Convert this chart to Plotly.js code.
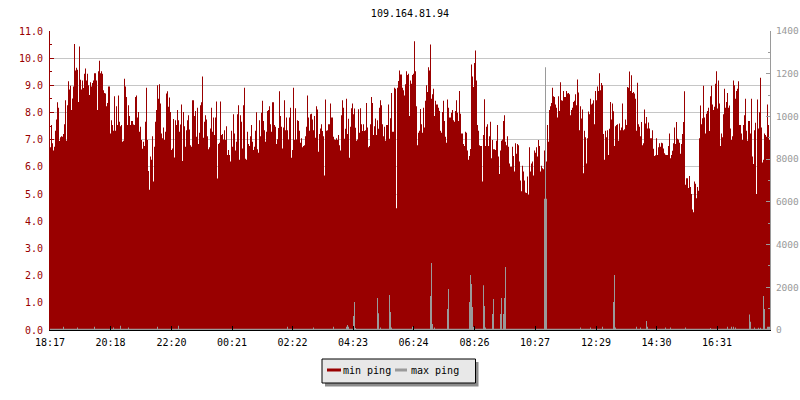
<!DOCTYPE html>
<html>
<head>
<meta charset="utf-8">
<script src="https://cdn.plot.ly/plotly-3.0.1.min.js"></script>
<style>html,body{margin:0;padding:0;background:#fff;}#chart{width:800px;height:400px;}</style>
</head>
<body>
<div id="chart"></div>
<script>
var chartTitle = "109.164.81.94";
var sampleMinutes = 2;
var timeTickMinutes = [0, 121, 243, 364, 485, 606, 727, 849, 970, 1092, 1213, 1334];
var timeTickLabels = ["18:17", "20:18", "22:20", "00:21", "02:22", "04:23", "06:24", "08:26", "10:27", "12:29", "14:30", "16:31"];
var rightTickVals = [0, 2000, 4000, 6000, 8000, 10000, 12000, 14000];
var rightTickText = ["0", "2000", "4000", "6000", "8000", "1000", "1200", "1400"];
var seriesNames = ["min ping", "max ping"];

var minPing = [
6.72,7.54,6.87,6.60,6.74,7.33,7.74,8.38,8.18,6.95,7.09,7.13,7.11,7.21,7.57,8.45,6.96,8.27,9.15,8.85,
8.99,8.09,8.52,8.96,10.52,9.55,9.65,9.57,8.39,10.43,9.21,8.85,9.18,8.90,9.43,9.62,9.18,9.43,9.00,8.65,
9.11,8.96,9.09,9.18,9.45,9.45,9.18,8.09,9.52,9.91,9.45,9.52,9.43,8.82,8.72,8.70,8.23,8.35,8.96,8.96,
7.23,7.72,7.54,7.33,8.60,7.33,8.23,7.54,8.63,7.66,7.50,7.54,6.93,6.96,9.24,8.96,8.57,7.54,8.27,7.87,
7.54,7.69,7.69,7.56,7.54,8.57,8.63,7.82,8.02,7.29,7.48,6.99,6.67,6.93,6.77,7.66,8.91,6.99,5.85,5.16,
6.38,6.26,7.13,5.46,6.74,7.66,8.09,9.00,8.51,9.04,8.33,7.23,7.05,7.45,6.99,7.29,8.70,8.78,8.21,8.55,
8.02,6.62,6.68,7.76,6.35,7.72,7.54,8.09,7.72,7.29,7.56,8.30,6.22,8.02,7.50,6.74,7.35,7.72,7.90,7.38,
6.80,6.74,8.45,8.45,
7.87,8.06,7.11,8.18,6.84,7.26,8.27,8.38,9.33,7.07,7.66,7.90,7.74,7.13,6.65,6.72,7.41,8.18,7.29,7.82,
7.17,7.82,8.41,5.57,6.84,6.89,8.41,7.17,7.21,7.01,7.35,6.99,7.50,6.44,6.62,6.44,6.20,7.33,6.74,7.94,
7.23,6.60,6.93,7.94,8.27,6.26,7.90,7.66,6.68,8.27,8.91,6.30,6.26,7.29,6.84,6.77,7.13,7.54,6.93,6.62,
6.74,7.33,8.01,6.65,6.52,7.72,7.13,7.99,8.43,7.69,7.35,6.93,7.29,8.06,8.09,8.23,7.57,7.29,8.38,8.38,
7.54,7.48,6.84,7.02,7.43,8.78,7.87,7.48,6.68,7.45,8.45,7.35,7.82,7.35,7.01,7.82,8.18,6.34,6.62,8.91,
6.99,8.16,7.01,7.72,7.69,7.33,6.89,7.05,6.72,6.77,6.80,7.13,7.48,8.63,7.82,7.33,7.94,7.96,7.74,7.35,
7.87,7.07,8.23,8.11,6.56,7.21,7.41,7.57,7.32,7.13,5.68,8.48,7.33,7.35,7.57,7.57,8.33,7.82,7.82,7.11,
7.01,6.99,7.05,6.99,
7.17,6.80,6.60,7.90,8.45,8.18,7.04,7.40,8.51,7.21,7.77,6.34,7.48,8.16,8.33,7.94,8.15,7.44,6.96,7.01,
8.12,7.26,8.16,7.57,7.32,7.57,7.32,7.35,8.35,7.45,6.72,6.77,7.57,8.57,8.35,7.17,7.50,7.78,7.17,7.72,
7.40,8.18,8.45,8.27,7.57,7.13,7.48,6.96,7.54,7.54,8.30,7.04,7.79,8.72,7.29,7.29,8.91,8.88,4.48,8.91,
9.16,9.55,9.40,9.40,8.91,8.82,8.63,9.04,9.52,9.38,9.43,7.87,9.18,9.06,9.38,9.43,10.62,9.52,8.23,6.80,
7.26,7.33,8.13,7.57,7.26,8.18,7.45,8.43,9.00,8.76,9.67,9.55,10.50,8.51,8.67,8.88,7.87,8.43,8.30,8.30,
8.18,8.06,7.33,7.26,8.02,8.43,7.69,7.11,6.89,8.48,8.18,7.82,7.82,7.99,8.09,7.72,7.66,8.06,8.45,7.99,
7.69,8.79,7.96,7.23,7.23,6.84,6.77,7.29,7.26,6.60,6.26,6.40,6.66,9.77,9.33,8.94,9.82,10.28,9.18,7.54,
7.33,6.80,6.77,6.77,
5.46,7.17,8.49,6.77,7.48,7.57,6.77,7.13,7.66,6.32,6.99,6.65,6.65,6.62,6.96,7.54,6.38,5.74,6.60,6.96,
7.01,7.69,7.90,6.93,6.80,7.13,6.74,6.13,6.01,6.01,6.74,6.40,5.83,6.87,6.48,6.84,6.80,6.20,5.50,5.10,
6.04,5.83,5.50,5.06,5.04,5.65,4.98,6.72,5.83,6.13,6.20,5.68,6.60,6.52,6.72,6.38,6.99,6.77,5.83,6.04,
5.95,5.91,6.60,6.56,6.20,7.54,6.93,8.09,8.23,8.35,8.91,8.60,8.57,8.30,8.18,7.82,8.60,8.06,9.11,8.45,
8.43,8.79,8.57,8.57,8.79,8.70,8.72,8.67,7.90,8.09,8.18,8.39,8.43,8.67,8.27,9.22,8.74,7.35,8.23,7.78,
8.11,5.77,7.33,7.09,6.13,7.05,8.04,7.94,8.51,8.30,8.33,8.45,7.57,8.79,8.45,8.96,8.79,9.45,8.82,9.09,
9.00,7.21,6.26,7.33,7.09,7.35,6.44,7.40,8.39,7.74,8.33,8.05,6.77,7.50,7.54,7.57,6.96,7.60,7.35,7.45,
8.33,7.35,7.39,7.74,
7.54,8.94,8.91,9.51,8.79,9.37,8.72,8.76,8.70,8.51,7.33,9.10,7.57,7.48,7.13,7.65,6.80,6.87,8.11,7.60,
7.84,7.41,7.63,7.41,7.05,7.05,7.35,6.67,6.40,6.43,7.05,6.44,6.72,6.87,6.74,6.89,6.87,6.68,6.50,6.45,
6.44,6.44,6.77,7.23,6.32,6.44,6.59,6.87,7.45,6.84,7.65,7.04,7.01,6.89,6.48,6.84,7.21,7.65,8.78,5.34,
5.58,5.58,5.22,5.67,5.26,5.00,4.43,4.33,5.46,5.38,4.85,5.26,5.12,7.05,8.26,7.57,7.79,8.99,7.82,7.23,
7.96,8.06,8.18,7.32,8.60,8.99,8.30,8.09,8.21,9.06,9.52,8.15,9.18,8.33,6.77,7.23,7.09,7.94,8.88,8.18,
8.39,8.72,8.18,8.26,7.41,6.99,7.13,9.18,9.00,8.51,8.79,8.88,9.15,7.54,7.54,7.23,6.99,7.54,7.90,8.51,
7.33,6.96,7.69,7.69,7.23,8.51,6.38,6.11,7.35,7.62,5.00,8.48,7.41,8.01,9.28,7.45,6.16,6.26,7.23,7.17,
7.11,8.30,7.54,6.99
];

var maxPing = [
60,60,60,60,60,60,60,60,60,60,60,60,60,150,60,60,60,60,60,60,60,60,60,60,60,60,60,120,60,60,60,60,60,60,60,60,60,60,60,60,
60,60,60,60,150,60,60,60,60,60,60,60,60,60,60,60,60,60,60,60,60,60,60,120,60,60,60,60,60,60,200,60,60,60,60,60,60,60,120,60,
60,60,60,60,60,60,60,60,60,60,60,60,60,60,60,60,60,60,60,60,60,60,60,60,60,60,60,150,60,60,60,60,60,60,60,60,60,60,60,60,
60,60,60,60,60,60,60,60,200,60,60,60,60,60,60,60,60,60,60,60,60,60,60,60,60,60,60,60,60,60,60,60,60,60,60,60,60,60,60,60,
60,60,60,60,60,60,60,60,60,60,60,60,60,60,60,60,60,60,60,60,60,60,60,60,60,60,60,60,60,60,60,60,60,60,60,60,60,60,60,60,
60,60,60,60,60,60,60,60,60,60,60,60,60,60,60,60,60,60,60,60,60,60,60,60,60,60,60,60,60,60,60,60,60,60,60,60,60,150,60,60,
60,60,60,60,60,60,60,60,60,60,60,60,60,60,60,60,60,60,60,60,60,60,60,120,60,60,60,60,60,60,60,60,60,60,60,60,60,60,60,60,
60,60,60,150,60,60,60,60,60,60,60,60,60,60,60,60,150,230,150,60,60,60,60,655,1310,90,60,60,60,60,60,60,60,60,60,60,60,60,60,60,
60,60,60,60,60,60,60,1500,780,60,120,60,60,60,60,60,60,60,60,1640,840,120,60,60,60,60,60,60,60,60,60,60,60,60,60,60,60,60,60,60,
60,60,150,60,60,60,60,60,60,60,60,60,60,60,60,60,60,60,60,60,1590,3140,280,60,120,60,60,60,60,60,60,60,60,60,60,60,60,980,1920,60,
60,60,60,60,60,60,60,60,60,60,60,60,60,60,60,60,60,60,60,1310,2570,2150,1080,140,60,60,60,60,60,60,60,60,60,2100,1120,120,60,60,60,60,
60,60,750,1450,60,60,60,60,60,60,750,1500,60,750,1500,2950,60,60,60,60,60,60,60,60,60,60,60,60,60,60,60,60,60,60,60,60,60,60,60,60,
60,60,60,60,60,60,60,60,60,60,60,60,60,60,6150,12300,6150,60,60,60,60,60,60,60,60,60,60,60,60,60,60,60,60,60,60,60,60,60,60,60,
60,60,60,60,60,60,60,60,60,60,120,60,60,60,60,60,60,60,60,60,120,60,60,60,60,60,60,60,60,60,60,60,150,60,60,60,60,60,60,60,
60,60,60,1310,2570,120,60,60,60,60,60,60,60,60,60,60,60,60,60,60,60,60,60,60,60,60,150,60,60,60,120,60,60,60,60,60,420,150,60,60,
60,60,60,60,60,60,60,60,60,60,60,60,60,60,60,120,60,60,60,60,120,60,60,60,60,60,60,60,60,60,60,60,60,60,60,120,60,60,60,60,
60,60,60,60,60,60,60,60,60,60,60,60,60,60,60,60,60,60,60,60,90,60,60,60,60,60,60,60,60,60,60,60,60,60,60,60,60,150,60,60,
60,150,60,150,60,120,60,60,60,60,60,60,60,60,60,60,60,60,60,720,390,60,60,60,120,60,60,60,100,60,100,60,60,1590,980,60,60,155,155,155
];

function stepX(arr) {
  var xs = [];
  for (var i = 0; i <= arr.length; i++) xs.push(i * sampleMinutes);
  return xs;
}
function stepY(arr) {
  return arr.concat([arr[arr.length - 1]]);
}

var red = "#990000";
var gray = "#9a9a9a";
var mono = "DejaVu Sans Mono";

var traces = [
  {
    type: "scatter", mode: "lines", name: seriesNames[0],
    x: stepX(minPing), y: stepY(minPing),
    line: {shape: "hv", width: 0, color: red},
    fill: "tozeroy", fillcolor: red, yaxis: "y", hoverinfo: "skip"
  },
  {
    type: "scatter", mode: "lines", name: seriesNames[1],
    x: stepX(maxPing), y: stepY(maxPing),
    line: {shape: "hv", width: 0, color: gray},
    fill: "tozeroy", fillcolor: gray, yaxis: "y2", hoverinfo: "skip"
  }
];

function px(x) { return (x - 50) / 720; }
function py(y) { return (330 - y) / 299; }

var layout = {
  width: 800, height: 400,
  margin: {l: 50, r: 30, t: 31, b: 70, pad: 0},
  paper_bgcolor: "#ffffff", plot_bgcolor: "#ffffff",
  showlegend: false,
  title: {text: chartTitle, font: {family: mono, size: 10, color: "#000"},
          x: 0.5125, xref: "container", xanchor: "center", y: 1 - 13 / 400, yref: "container", yanchor: "middle"},
  xaxis: {
    range: [0, minPing.length * sampleMinutes], tickmode: "array",
    tickvals: timeTickMinutes, ticktext: timeTickLabels,
    ticks: "inside", ticklen: 4, tickcolor: "#000", tickwidth: 1,
    showline: true, linecolor: "#000", linewidth: 1, showgrid: false, zeroline: false,
    tickfont: {family: mono, size: 10, color: "#000"}, ticklabelstandoff: 3, fixedrange: true
  },
  yaxis: {
    range: [0, 11], tickmode: "linear", tick0: 0, dtick: 1, tickformat: ".1f",
    ticks: "inside", ticklen: 4, tickcolor: red, tickwidth: 1,
    showline: true, linecolor: red, linewidth: 1,
    showgrid: true, gridcolor: "#c6c6c6", gridwidth: 1, zeroline: false,
    tickfont: {family: mono, size: 10, color: red}, ticklabelstandoff: 4,
    minor: {dtick: 0.5, tick0: 0, ticks: "inside", ticklen: 2, tickcolor: red, showgrid: false}
  },
  yaxis2: {
    overlaying: "y", side: "right", range: [0, 14000], tickmode: "array",
    tickvals: rightTickVals, ticktext: rightTickText,
    ticks: "inside", ticklen: 4, tickcolor: gray, tickwidth: 1,
    showline: true, linecolor: gray, linewidth: 1, showgrid: false, zeroline: false,
    tickfont: {family: mono, size: 9.5, color: gray}, ticklabelstandoff: 3,
    minor: {tickmode: "array", tickvals: [1000, 3000, 5000, 7000, 9000, 11000, 13000], ticks: "inside", ticklen: 2, tickcolor: gray, showgrid: false}
  },
  shapes: [
    {type: "rect", xref: "paper", yref: "paper", x0: px(325), x1: px(478.5), y0: py(362), y1: py(386.5),
     fillcolor: "#8c8c8c", line: {width: 0}, layer: "above"},
    {type: "rect", xref: "paper", yref: "paper", x0: px(322), x1: px(475.5), y0: py(359), y1: py(383),
     fillcolor: "#e8e8e8", line: {width: 1, color: "#000"}, layer: "above"},
    {type: "line", xref: "paper", yref: "paper", x0: px(327), x1: px(341), y0: py(370), y1: py(370),
     line: {width: 3, color: red}, layer: "above"},
    {type: "line", xref: "paper", yref: "paper", x0: px(395), x1: px(407), y0: py(370), y1: py(370),
     line: {width: 3, color: gray}, layer: "above"}
  ],
  annotations: [
    {xref: "paper", yref: "paper", x: px(341), y: py(370), xanchor: "left", yanchor: "middle",
     text: seriesNames[0], showarrow: false, font: {family: mono, size: 10, color: "#000"}},
    {xref: "paper", yref: "paper", x: px(409), y: py(370), xanchor: "left", yanchor: "middle",
     text: seriesNames[1], showarrow: false, font: {family: mono, size: 10, color: "#000"}}
  ]
};

Plotly.newPlot("chart", traces, layout, {staticPlot: true, displayModeBar: false});
</script>
</body>
</html>
